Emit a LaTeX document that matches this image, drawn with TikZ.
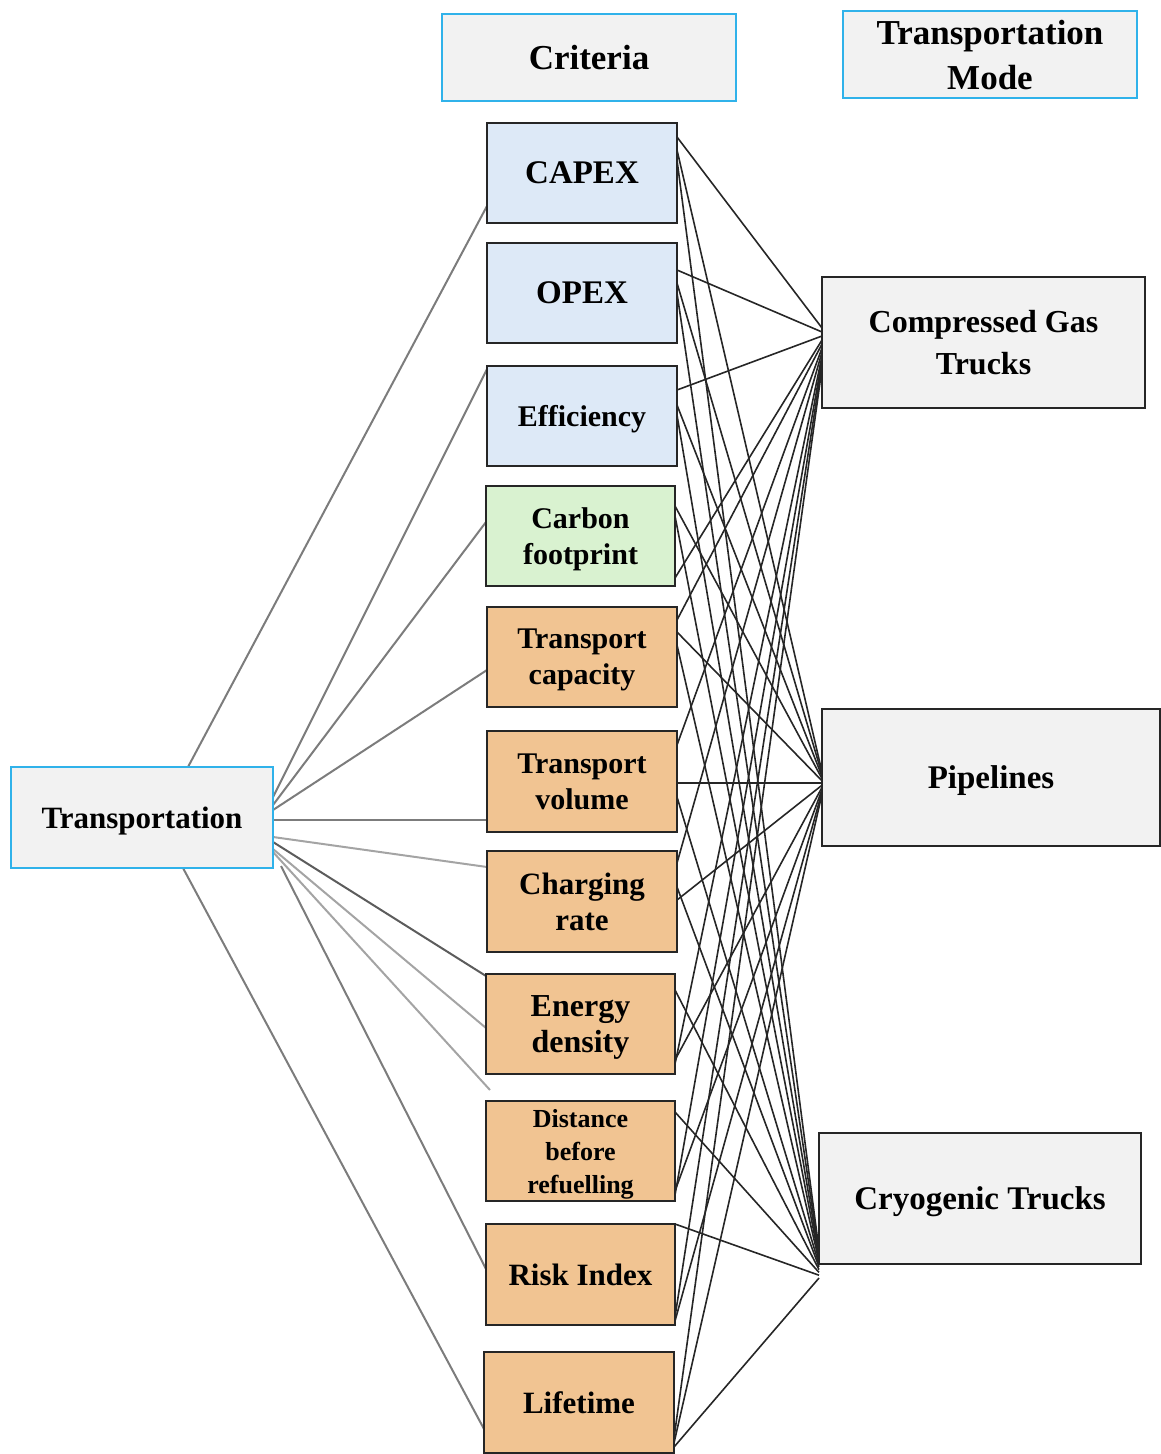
\documentclass[tikz,border=0pt]{standalone}
\usepackage{fontspec}
\setmainfont{Liberation Serif}
\usetikzlibrary{backgrounds}
\definecolor{critblue}{HTML}{DDE9F7}
\definecolor{critgreen}{HTML}{D9F2D0}
\definecolor{critorange}{HTML}{F1C492}
\definecolor{panel}{HTML}{F2F2F2}
\definecolor{hdrblue}{HTML}{30B2EA}
\definecolor{edge}{HTML}{262626}
\definecolor{spoke}{HTML}{7C7C7C}
\definecolor{spokelight}{HTML}{A4A4A4}
\definecolor{spokedark}{HTML}{5C5C5C}
\begin{document}
\begin{tikzpicture}[x=1pt,y=-1pt,
  fs/.style 2 args={font=\bfseries\fontsize{#1}{#2}\selectfont},
  base/.style={line width=2.5pt, inner sep=0pt, outer sep=0pt, anchor=north west,
               align=center, text depth=0pt},
  hdr/.style={base, draw=hdrblue, fill=panel},
  crit/.style={base, draw=edge, minimum width=190pt, minimum height=100pt},
  cb/.style={crit, fill=critblue},
  cg/.style={crit, fill=critgreen},
  co/.style={crit, fill=critorange},
  mode/.style={base, draw=edge, fill=panel},
  link/.style={draw=edge, line width=1.6pt},
  spk/.style={draw=spoke, line width=2pt},
  spkl/.style={draw=spokelight, line width=2pt},
  spkd/.style={draw=spokedark, line width=2pt}]
\useasboundingbox (0,0) rectangle (1161,1454);

% headers
\node[hdr, fs={35}{42}, minimum width=294pt, minimum height=87pt] (crith) at (442,14)
  {Criteria};
\node[hdr, fs={35}{45}, minimum width=294pt, minimum height=87pt] (modeh) at (843,11)
  {Transportation\\Mode};

% goal
\node[hdr, fs={31}{36}, minimum width=262pt, minimum height=101pt] (tr) at (11,767)
  {Transportation};

% criteria
\node[cb, fs={33}{36}] (capex)  at (487,123)  {CAPEX};
\node[cb, fs={33}{36}] (opex)   at (487,243)  {OPEX};
\node[cb, fs={30}{36}] (eff)    at (487,366)  {Efficiency};
\node[cg, fs={30}{36}, minimum width=189pt] (carbon) at (486,486) {Carbon\\footprint};
\node[co, fs={30}{36}] (cap)    at (487,607)  {Transport\\capacity};
\node[co, fs={30}{36}, minimum height=101pt] (vol) at (487,731) {Transport\\volume};
\node[co, fs={31}{36}, minimum height=101pt] (charg) at (487,851) {Charging\\rate};
\node[co, fs={32}{36}, minimum width=189pt] (energy) at (486,974) {Energy\\density};
\node[co, fs={26}{33}, minimum width=189pt] (dist) at (486,1101) {Distance\\before\\refuelling};
\node[co, fs={31}{36}, minimum width=189pt, minimum height=101pt] (risk) at (486,1224) {Risk Index};
\node[co, fs={31}{36}, minimum height=101pt] (life) at (484,1352) {Lifetime};

% alternatives
\node[mode, fs={32}{42}, minimum width=323pt, minimum height=131pt] (gas) at (822,277)
  {Compressed Gas\\Trucks};
\node[mode, fs={33}{40}, minimum width=338pt, minimum height=137pt] (pipe) at (822,709)
  {Pipelines};
\node[mode, fs={33}{40}, minimum width=322pt, minimum height=131pt] (cryo) at (819,1133)
  {Cryogenic Trucks};

\coordinate (gapend) at (490,1090);

\begin{scope}[on background layer]
  % goal to criteria
  \draw[spk]  ([xshift=46pt]tr.north) -- ([yshift=-83pt]capex.north west);
  \draw[spk]  ([yshift=-30pt]tr.north east) -- ([yshift=-3pt]eff.north west);
  \draw[spk]  ([yshift=-38pt]tr.north east) -- ([yshift=-36pt]carbon.north west);
  \draw[spk]  ([yshift=-43pt]tr.north east) -- ([yshift=-63pt]cap.north west);
  \draw[spk]  ([yshift=-53pt]tr.north east) -- ([yshift=-89pt]vol.north west);
  \draw[spkl] ([yshift=-70pt]tr.north east) -- ([yshift=-16pt]charg.north west);
  \draw[spkd] ([yshift=-75pt]tr.north east) -- ([yshift=-2pt]energy.north west);
  \draw[spkl] ([yshift=-82pt]tr.north east) -- ([yshift=-54pt]energy.north west);
  \draw[spkl] ([yshift=-85pt]tr.north east) -- (gapend);
  \draw[spk]  ([xshift=8pt,yshift=-99pt]tr.north east) -- ([yshift=-45pt]risk.north west);
  \draw[spk]  ([xshift=41pt]tr.south) -- ([yshift=-77pt]life.north west);

  % criteria to alternatives
  \foreach \c/\a/\b/\d/\i in {capex/14/27/37/0, opex/27/40/50/1, eff/24/39/49/2,
      carbon/92/20/30/3, cap/13/25/38/4, vol/14/52/66/5, charg/12/49/36/6,
      energy/90/86/16/7, dist/94/90/11/8, risk/93/97/0/9, life/86/91/95/10} {
    \pgfmathsetmacro\ya{14.5-4*\i}
    \pgfmathsetmacro\yb{5.5-2.2*\i}
    \pgfmathsetmacro\yc{-51.5-2.8*\i}
    \draw[link] ([yshift=-\a pt]\c.north east) -- ([yshift=\ya pt]gas.west);
    \draw[link] ([yshift=-\b pt]\c.north east) -- ([yshift=\yb pt]pipe.west);
    \draw[link] ([yshift=-\d pt]\c.north east) -- ([yshift=\yc pt]cryo.west);
  }
\end{scope}
\end{tikzpicture}
\end{document}
